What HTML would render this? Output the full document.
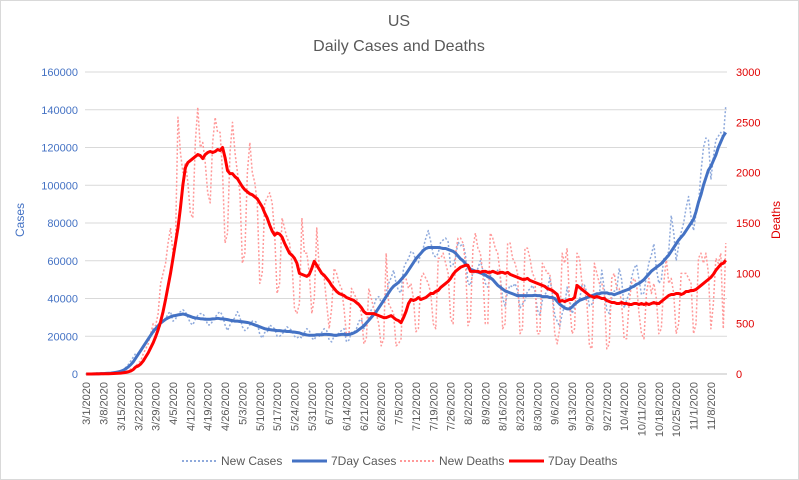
<!DOCTYPE html>
<html><head><meta charset="utf-8"><style>
body{margin:0;background:#fff}
svg{display:block;font-family:"Liberation Sans",sans-serif}
</style></head><body>
<svg id="chart" width="799" height="480">
<rect x="0.5" y="0.5" width="798" height="479" fill="#fff" stroke="#d9d9d9"/>
<text x="399" y="26" text-anchor="middle" font-size="16" fill="#595959">US</text>
<text x="399" y="51" text-anchor="middle" font-size="16" fill="#595959">Daily Cases and Deaths</text>
<g id="grid"></g><g id="xlabels"></g><g id="series"></g>
<text transform="translate(24,220) rotate(-90)" text-anchor="middle" font-size="12" fill="#4472c4">Cases</text>
<text transform="translate(780,220) rotate(-90)" text-anchor="middle" font-size="12" fill="#e00000">Deaths</text>
<g font-size="12" fill="#595959">
<g><line x1="182" y1="461" x2="217" y2="461" stroke="#8faadc" stroke-width="2" stroke-dasharray="2,2"/><text x="221" y="465">New Cases</text></g>
<g><line x1="292" y1="461" x2="327" y2="461" stroke="#4472c4" stroke-width="3"/><text x="331" y="465">7Day Cases</text></g>
<g><line x1="400" y1="461" x2="435" y2="461" stroke="#ff9999" stroke-width="2" stroke-dasharray="2,2"/><text x="439" y="465">New Deaths</text></g>
<g><line x1="509" y1="461" x2="544" y2="461" stroke="#ff0000" stroke-width="3"/><text x="548" y="465">7Day Deaths</text></g>
</g>
</svg>
<script>
const leftTicks=[0,20000,40000,60000,80000,100000,120000,140000,160000];
const rightTicks=[0,500,1000,1500,2000,2500,3000];
const newCasesK=[0,0,0,0,0.1,0.2,0.2,0.3,0.4,0.5,0.6,0.8,1,1.5,
1.5,2.5,3.5,5,7,9,11, 11,13,15,17,19,21,24, 20,23,26,28,29,32,33, 28,29,32,33,34,33,30,
27,26,29,31,32,32,30, 26,26,28,30,32,33,31, 26,23,26,28,30,33,30, 25,23,24,26,28,28,27,
21,19,22,22,26,25,24, 20,20,21,23,25,24,23, 20,19,20,19,22,24,23, 19,18,21,20,22,24,23,
18,17,20,20,22,23,24, 17,18,22,22,24,28,29, 24,26,31,34,36,40,41, 38,39,43,48,51,55,48,
44,43,56,59,61,65,64, 60,59,64,67,72,76,70, 63,62,64,70,71,72,70, 57,58,62,70,68,69,63,
48,47,54,53,56,60,55, 48,46,52,55,54,55,52, 40,36,44,47,46,48,44, 35,37,39,44,45,47,44,
34,31,39,42,44,51,43, 31,28,25,32,36,46,40, 32,35,38,39,47,47,43, 36,37,41,40,42,55,45,
34,32,40,44,44,56,50, 35,39,43,51,56,58,50, 42,43,52,59,63,69,56, 48,50,61,62,65,84,75,
60,68,75,80,88,94,83, 76,85,90,107,120,125,124, 103,115,124,126,128,125,142];
const avgCasesK=[0,0,0,0,0.1,0.1,0.2,0.2,0.3,0.4,0.5,0.7,0.9,1.1,
1.5,2,2.8,3.8,5,6.5,8.5, 10.5,12.5,14.5,16.5,18.5,20.5,22.5, 24,25.5,27,28,29,29.7,30.3,
30.8,31,31.3,31.5,31.8,31.5,31, 30.5,30,29.7,29.5,29.3,29.2,29, 29,29,29.2,29.3,29.5,29.3,29.2,
29,28.8,28.5,28.3,28,28,27.8, 27.7,27.5,27.3,27,26.5,26,25.5, 25,24.5,24,23.7,23.5,23.3,23.2,
23,23,22.8,22.7,22.5,22.5,22.3, 22.2,22,21.8,21.3,21,20.7,20.5, 20.5,20.5,20.8,20.8,20.8,21,21,
20.9,20.8,20.5,20.5,20.8,21,21, 20.8,21,21.3,21.8,22.5,23.5,24.5, 25.5,27,28.5,30,31.5,33,35,
37,39,41,43,45,46.5,47.5, 48.5,50,51.5,53,55,57,59, 61,62.5,64,65.5,66.5,67,67,
67,67,67,66.8,66.5,66.5,66, 65.5,65,64,62.5,61,60,58.5, 57,55.5,55,54.5,54,53.5,53,
52.5,51.5,51,50,48.5,47,46, 45,44,43.5,43,42.5,42,41.5, 41.5,41.5,41.5,41.5,41.5,41.5,41.7,
41.5,41.5,41,41,41,40.5,40.5, 40,38.5,37,36,35,34.5,34.5, 35.5,37,38,39,39.5,40,40.5,
41,41.5,42,42.5,42.5,43,43, 43,42.5,42.5,42,42.5,43,43.5, 44,44.5,45,46,46.5,47.5,48,
49,50,51.5,53,54.5,55.5,56.5, 57.5,58.5,60,61.5,63,65,67, 69,71,72.5,74,76,78,80,
82,86,91,95,100,104,108, 110,113,116,120,123,126,128];
const newDeaths=[0,1,0,1,1,2,2,3,2,4,6,6,9,10,
12,20,25,36,50,60,80, 110,130,200,250,300,400,500, 480,600,900,1000,1100,1300,1450,
1200,1300,2550,2200,2000,2100,1900, 1600,1550,2300,2650,2250,2300,2100, 1800,1700,2300,2550,2400,2400,2000,
1300,1400,2200,2500,2200,2000,1800, 1100,1200,2000,2300,2000,1900,1700, 900,1000,1700,1750,1800,1700,1400,
800,900,1550,1450,1350,1300,1100, 650,600,700,1550,1200,1200,1000, 600,750,1450,1050,1000,950,700,
450,650,1050,1000,900,850,650, 380,400,850,800,750,700,600, 300,350,850,750,650,600,500,
280,350,1200,700,650,600,280, 300,350,950,950,850,900,750, 420,450,950,1000,950,900,800,
500,450,1150,1150,1200,1100,1000, 550,500,1200,1350,1350,1300,1100, 480,550,1250,1400,1250,1200,1000,
500,500,1400,1350,1250,1200,1000, 450,500,1300,1300,1150,1100,1000, 400,450,1250,1250,1150,1000,950,
400,400,1100,1050,1000,1000,800, 400,300,450,1200,1100,1250,700, 400,450,1200,1150,900,850,700,
280,250,1100,1000,900,900,800, 250,300,950,1000,850,850,700, 350,350,700,900,950,900,600,
400,350,800,950,800,900,750, 400,450,900,1150,900,950,800, 400,500,1000,1000,1000,950,900,
400,500,1150,1200,1100,1200,1000, 450,700,1150,1100,1200,450,1300];
const avgDeaths=[0,0,0,1,1,1,2,2,3,3,4,5,6,7,
9,12,16,22,30,45,70, 80,100,130,170,210,260,310, 370,440,520,620,740,870,1000,
1150,1300,1450,1650,1880,2050,2100, 2120,2140,2160,2180,2170,2140,2180, 2200,2210,2200,2210,2230,2220,2250,
2150,2020,1990,1990,1960,1940,1900, 1860,1830,1810,1790,1780,1760,1740, 1700,1660,1600,1550,1480,1420,1380,
1400,1390,1360,1300,1250,1200,1180, 1150,1100,1000,990,980,970,990, 1050,1120,1080,1040,1000,980,950,
920,880,850,820,800,790,780, 760,750,740,730,710,690,660, 620,600,600,600,600,590,580,
570,560,560,570,580,560,540, 530,510,560,620,700,740,730, 740,760,740,750,760,780,800,
800,820,830,860,880,900,920, 950,990,1020,1040,1060,1070,1080, 1080,1020,1020,1020,1020,1010,1020,
1020,1010,1010,1020,1010,1000,1010, 1010,1000,1010,990,980,970,960, 950,940,940,950,930,920,910,
900,890,880,870,850,840,830, 810,790,720,730,720,730,740, 740,760,880,860,840,820,800,
780,770,760,770,760,750,750, 730,720,710,710,700,700,710, 700,700,690,690,700,700,690,
700,690,700,690,700,710,700, 700,720,740,760,780,790,790, 800,800,790,800,820,820,830,
830,840,860,880,900,920,940, 960,990,1030,1060,1090,1100,1130];

const NS='http://www.w3.org/2000/svg';
const X0=85,X1=727,Y0=374,Y1=72,N=avgCasesK.length;
const band=(X1-X0)/N;
const xPos=i=>X0+(i+0.5)*band;
const yL=v=>Y0-v/160000*(Y0-Y1);
const yR=v=>Y0-v/3000*(Y0-Y1);
function mk(tag,attrs,parent){const e=document.createElementNS(NS,tag);for(const k in attrs)e.setAttribute(k,attrs[k]);parent.appendChild(e);return e;}
const grid=document.getElementById('grid');
leftTicks.forEach(t=>{
  const l=mk('line',{x1:X0,x2:X1,y1:yL(t),y2:yL(t),stroke:t===0?'#bfbfbf':'#d9d9d9'},grid);
  
  
  const tx=mk('text',{x:78,y:yL(t)+4,'text-anchor':'end','font-size':11,fill:'#4472c4'},grid);
  tx.textContent=t;
  
  
});
rightTicks.forEach(t=>{
  const tx=mk('text',{x:736,y:yR(t)+4,'text-anchor':'start','font-size':11,fill:'#e00000'},grid);
  tx.textContent=t;
  
  
});
const xl=document.getElementById('xlabels');
const start=new Date(2020,2,1);
for(let i=0;i<N;i+=7){
  const d=new Date(start.getTime()+i*86400000+3600000*12);
  const s=(d.getMonth()+1)+'/'+d.getDate()+'/2020';
  const x=xPos(i);
  const tx=mk('text',{transform:`translate(${x+4},382) rotate(-90)`,'text-anchor':'end','font-size':11,fill:'#595959'},xl);
  tx.textContent=s;
  
  
}
const sg=document.getElementById('series');
function line(vals,yf,stroke,w,dash,name){
  const pts=vals.map((v,i)=>xPos(i).toFixed(2)+','+yf(v).toFixed(2)).join(' ');
  const a={points:pts,fill:'none',stroke:stroke,'stroke-width':w,'stroke-linejoin':'round'};
  if(dash)a['stroke-dasharray']=dash;
  const p=mk('polyline',a,sg);
  
  
}
line(newCasesK.map(v=>v*1000),yL,'#8faadc',1.5,'2,2','new-cases-line');
line(newDeaths,yR,'#ff9999',1.5,'2,2','new-deaths-line');
line(avgCasesK.map(v=>v*1000),yL,'#4472c4',3,null,'7day-cases-line');
line(avgDeaths,yR,'#ff0000',3,null,'7day-deaths-line');
</script>
</body></html>
